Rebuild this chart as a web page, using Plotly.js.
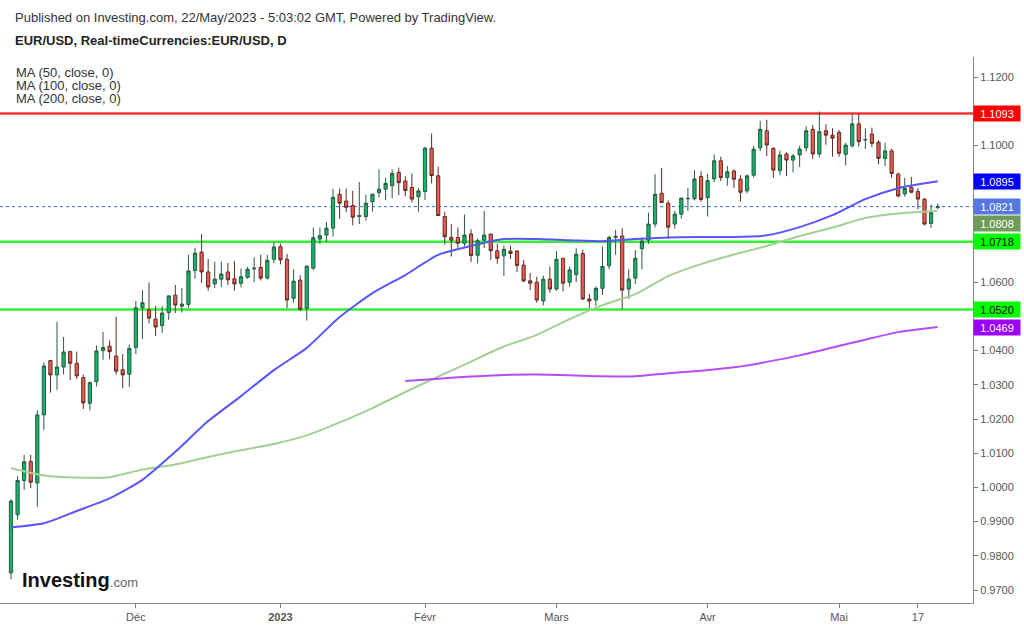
<!DOCTYPE html>
<html>
<head>
<meta charset="utf-8">
<script src="https://cdn.plot.ly/plotly-3.0.1.min.js"></script>
<style>
html,body{margin:0;padding:0;background:#fff;}
#chart{width:1024px;height:626px;}
</style>
</head>
<body>
<div id="chart"></div>
<script>
// ---------- DATA ----------
const dates = [
'2022-11-04',
'2022-11-07','2022-11-08','2022-11-09','2022-11-10','2022-11-11',
'2022-11-14','2022-11-15','2022-11-16','2022-11-17','2022-11-18',
'2022-11-21','2022-11-22','2022-11-23','2022-11-24','2022-11-25',
'2022-11-28','2022-11-29','2022-11-30','2022-12-01','2022-12-02',
'2022-12-05','2022-12-06','2022-12-07','2022-12-08','2022-12-09',
'2022-12-12','2022-12-13','2022-12-14','2022-12-15','2022-12-16',
'2022-12-19','2022-12-20','2022-12-21','2022-12-22','2022-12-23',
'2022-12-26','2022-12-27','2022-12-28','2022-12-29','2022-12-30',
'2023-01-02','2023-01-03','2023-01-04','2023-01-05','2023-01-06',
'2023-01-09','2023-01-10','2023-01-11','2023-01-12','2023-01-13',
'2023-01-16','2023-01-17','2023-01-18','2023-01-19','2023-01-20',
'2023-01-23','2023-01-24','2023-01-25','2023-01-26','2023-01-27',
'2023-01-30','2023-01-31','2023-02-01','2023-02-02','2023-02-03',
'2023-02-06','2023-02-07','2023-02-08','2023-02-09','2023-02-10',
'2023-02-13','2023-02-14','2023-02-15','2023-02-16','2023-02-17',
'2023-02-20','2023-02-21','2023-02-22','2023-02-23','2023-02-24',
'2023-02-27','2023-02-28','2023-03-01','2023-03-02','2023-03-03',
'2023-03-06','2023-03-07','2023-03-08','2023-03-09','2023-03-10',
'2023-03-13','2023-03-14','2023-03-15','2023-03-16','2023-03-17',
'2023-03-20','2023-03-21','2023-03-22','2023-03-23','2023-03-24',
'2023-03-27','2023-03-28','2023-03-29','2023-03-30','2023-03-31',
'2023-04-03','2023-04-04','2023-04-05','2023-04-06','2023-04-07',
'2023-04-10','2023-04-11','2023-04-12','2023-04-13','2023-04-14',
'2023-04-17','2023-04-18','2023-04-19','2023-04-20','2023-04-21',
'2023-04-24','2023-04-25','2023-04-26','2023-04-27','2023-04-28',
'2023-05-01','2023-05-02','2023-05-03','2023-05-04','2023-05-05',
'2023-05-08','2023-05-09','2023-05-10','2023-05-11','2023-05-12',
'2023-05-15','2023-05-16','2023-05-17','2023-05-18','2023-05-19',
'2023-05-22'
];

const openP = [
0.9750,
0.9920,1.0020,1.0076,1.0013,1.0212,
1.0371,1.0329,1.0352,1.0397,1.0363,
1.0321,1.0246,1.0309,1.0400,1.0413,
1.0384,1.0344,1.0331,1.0409,1.0525,
1.0519,1.0492,1.0473,1.0511,1.0562,
1.0530,1.0535,1.0634,1.0688,1.0630,
1.0595,1.0609,1.0630,1.0610,1.0597,
1.0614,1.0639,1.0643,1.0612,1.0667,
1.0704,1.0667,1.0553,1.0606,1.0524,
1.0641,1.0726,1.0738,1.0758,1.0857,
1.0837,1.0824,1.0792,1.0792,1.0835,
1.0862,1.0872,1.0882,1.0921,1.0896,
1.0877,1.0850,1.0865,1.0992,1.0911,
1.0792,1.0731,1.0731,1.0714,1.0741,
1.0679,1.0723,1.0741,1.0692,1.0677,
1.0691,1.0691,1.0650,1.0604,1.0600,
1.0545,1.0609,1.0580,1.0670,1.0600,
1.0622,1.0684,1.0551,1.0548,1.0582,
1.0648,1.0731,1.0735,1.0580,1.0612,
1.0698,1.0723,1.0770,1.0860,1.0831,
1.0770,1.0799,1.0844,1.0844,1.0909,
1.0847,1.0902,1.0955,1.0906,1.0925,
1.0901,1.0867,1.0913,1.0993,1.1043,
1.0991,1.0926,1.0975,1.0957,1.0972,
1.0993,1.1047,1.0975,1.1043,1.1030,
1.1038,1.0974,1.0999,1.1063,1.1016,
1.1033,1.1009,1.0962,1.0984,1.0916,
1.0858,1.0877,1.0865,1.0843,1.0772,
1.0818
];

const highP = [
0.9966,
1.0033,1.0095,1.0095,1.0226,1.0365,
1.0372,1.0484,1.0440,1.0400,1.0397,
1.0330,1.0310,1.0415,1.0454,1.0430,
1.0499,1.0390,1.0418,1.0545,1.0577,
1.0599,1.0530,1.0530,1.0562,1.0592,
1.0583,1.0680,1.0701,1.0741,1.0668,
1.0660,1.0660,1.0656,1.0662,1.0640,
1.0645,1.0673,1.0680,1.0680,1.0716,
1.0713,1.0683,1.0638,1.0620,1.0650,
1.0760,1.0760,1.0776,1.0873,1.0874,
1.0874,1.0867,1.0893,1.0855,1.0860,
1.0930,1.0905,1.0930,1.0935,1.0910,
1.0918,1.0875,1.0996,1.1035,1.0938,
1.0806,1.0770,1.0760,1.0798,1.0755,
1.0728,1.0809,1.0741,1.0712,1.0707,
1.0707,1.0694,1.0665,1.0627,1.0616,
1.0619,1.0646,1.0691,1.0670,1.0646,
1.0699,1.0695,1.0566,1.0588,1.0705,
1.0736,1.0753,1.0758,1.0638,1.0694,
1.0730,1.0803,1.0916,1.0934,1.0839,
1.0808,1.0846,1.0875,1.0928,1.0925,
1.0917,1.0973,1.0967,1.0940,1.0930,
1.0913,1.0915,1.0998,1.1072,1.1075,
1.0995,1.0985,1.0980,1.0975,1.0999,
1.1056,1.1060,1.1099,1.1062,1.1050,
1.1045,1.1007,1.1092,1.1092,1.1050,
1.1052,1.1015,1.1008,1.0990,1.0921,
1.0905,1.0908,1.0875,1.0846,1.0827,
1.0830
];

const lowP = [
0.9731,
0.9905,0.9993,0.9998,0.9943,1.0168,
1.0277,1.0285,1.0330,1.0314,1.0317,
1.0229,1.0225,1.0295,1.0373,1.0375,
1.0330,1.0290,1.0294,1.0390,1.0434,
1.0480,1.0443,1.0452,1.0490,1.0510,
1.0511,1.0525,1.0610,1.0598,1.0575,
1.0583,1.0586,1.0592,1.0575,1.0585,
1.0610,1.0600,1.0605,1.0608,1.0655,
1.0652,1.0524,1.0540,1.0515,1.0488,
1.0635,1.0712,1.0717,1.0734,1.0785,
1.0805,1.0766,1.0770,1.0780,1.0806,
1.0848,1.0840,1.0845,1.0855,1.0852,
1.0833,1.0806,1.0840,1.0889,1.0795,
1.0710,1.0675,1.0698,1.0705,1.0659,
1.0655,1.0700,1.0665,1.0654,1.0618,
1.0668,1.0630,1.0600,1.0577,1.0540,
1.0532,1.0569,1.0575,1.0573,1.0587,
1.0600,1.0548,1.0525,1.0530,1.0563,
1.0638,1.0680,1.0521,1.0551,1.0595,
1.0638,1.0712,1.0760,1.0833,1.0726,
1.0757,1.0786,1.0808,1.0839,1.0835,
1.0792,1.0893,1.0896,1.0882,1.0876,
1.0836,1.0860,1.0906,1.0983,1.0969,
1.0905,1.0913,1.0910,1.0921,1.0937,
1.0982,1.0960,1.0965,1.1002,1.0967,
1.0967,1.0942,1.0994,1.0997,1.0989,
1.0995,1.0945,1.0940,1.0905,1.0848,
1.0850,1.0860,1.0813,1.0766,1.0759,
1.0814
];

const closeP = [
0.9960,
1.0020,1.0075,1.0015,1.0212,1.0355,
1.0329,1.0352,1.0396,1.0363,1.0326,
1.0247,1.0306,1.0399,1.0409,1.0397,
1.0340,1.0329,1.0406,1.0525,1.0540,
1.0495,1.0469,1.0510,1.0560,1.0533,
1.0536,1.0633,1.0685,1.0630,1.0586,
1.0609,1.0624,1.0607,1.0595,1.0616,
1.0638,1.0641,1.0612,1.0664,1.0703,
1.0665,1.0548,1.0603,1.0521,1.0647,
1.0730,1.0736,1.0758,1.0848,1.0831,
1.0819,1.0790,1.0795,1.0831,1.0857,
1.0872,1.0889,1.0918,1.0891,1.0868,
1.0843,1.0867,1.0992,1.0912,1.0795,
1.0733,1.0723,1.0714,1.0738,1.0678,
1.0721,1.0738,1.0692,1.0670,1.0696,
1.0684,1.0649,1.0604,1.0597,1.0548,
1.0609,1.0580,1.0667,1.0597,1.0636,
1.0682,1.0551,1.0545,1.0582,1.0646,
1.0731,1.0734,1.0577,1.0609,1.0670,
1.0720,1.0770,1.0857,1.0833,1.0761,
1.0799,1.0846,1.0845,1.0902,1.0842,
1.0897,1.0955,1.0906,1.0923,1.0901,
1.0863,1.0911,1.0989,1.1047,1.1001,
1.0928,1.0972,1.0957,1.0969,1.0989,
1.1043,1.0975,1.1040,1.1030,1.1021,
1.0977,1.1001,1.1063,1.1011,1.1017,
1.1006,1.0962,1.0984,1.0918,1.0852,
1.0874,1.0863,1.0843,1.0770,1.0804,
1.0821
];

// moving averages read at weekly points
const maDates = ['2022-11-04','2022-11-11','2022-11-18','2022-11-25','2022-12-02','2022-12-09','2022-12-16','2022-12-23','2022-12-30','2023-01-06','2023-01-13','2023-01-20','2023-01-27','2023-02-03','2023-02-10','2023-02-17','2023-02-24','2023-03-03','2023-03-10','2023-03-17','2023-03-24','2023-03-31','2023-04-07','2023-04-14','2023-04-21','2023-04-28','2023-05-05','2023-05-12','2023-05-22'];
const ma50  = [0.9883,0.9895,0.9931,0.9968,1.0022,1.0104,1.0194,1.0267,1.0343,1.0408,1.0498,1.0568,1.0621,1.0680,1.0706,1.0726,1.0726,1.0723,1.0720,1.0726,1.0731,1.0732,1.0732,1.0737,1.0761,1.0796,1.0843,1.0875,1.0895];
const ma100 = [1.0056,1.0035,1.0029,1.0030,1.0052,1.0067,1.0089,1.0109,1.0127,1.0152,1.0190,1.0232,1.0279,1.0324,1.0368,1.0412,1.0446,1.0492,1.0533,1.0565,1.0618,1.0653,1.0681,1.0706,1.0735,1.0760,1.0788,1.0801,1.0808];
const ma200 = [null,null,null,null,null,null,null,null,null,null,null,null,1.0311,1.0318,1.0324,1.0329,1.0330,1.0328,1.0325,1.0325,1.0334,1.0341,1.0351,1.0367,1.0386,1.0409,1.0432,1.0454,1.0469];

const redLevel = 1.1093;
const greenLevels = [1.0718, 1.0520];
const lastPrice = 1.0821;

const yTickVals = [0.97,0.98,0.99,1.00,1.01,1.02,1.03,1.04,1.05,1.06,1.07,1.08,1.09,1.10,1.11,1.12];
const yTickHidden = [1.05,1.07,1.08,1.09,1.11]; // covered by the price tags in the reference

const tickDates  = ['2022-12-01','2023-01-02','2023-02-01','2023-03-01','2023-04-03','2023-05-01','2023-05-17'];
const tickLabels = ['Déc','<b>2023</b>','Févr','Mars','Avr','Mai','17'];

const legendLabels = ['MA (50, close, 0)','MA (100, close, 0)','MA (200, close, 0)'];

// ---------- CHART ----------
const FONT = 'Liberation Sans, Arial, sans-serif';

const traces = [
  {
    type:'candlestick', x:dates, open:openP, high:highP, low:lowP, close:closeP,
    increasing:{line:{color:'#2a5a40', width:1}, fillcolor:'#14b46b'},
    decreasing:{line:{color:'#5a2d28', width:1}, fillcolor:'#f2594b'},
    whiskerwidth:0, hoverinfo:'skip', showlegend:false
  },
  {type:'scatter', mode:'lines', x:maDates, y:ma100, line:{color:'#a3cf93', width:2, shape:'spline', smoothing:0.6}, hoverinfo:'skip'},
  {type:'scatter', mode:'lines', x:maDates, y:ma200, line:{color:'#b44cff', width:2, shape:'spline', smoothing:0.6}, hoverinfo:'skip', connectgaps:false},
  {type:'scatter', mode:'lines', x:maDates, y:ma50, line:{color:'#5656ff', width:2, shape:'spline', smoothing:0.6}, hoverinfo:'skip'}
];

const shapes = [
  {type:'line', xref:'paper', x0:0, x1:1, yref:'y', y0:redLevel, y1:redLevel, line:{color:'#f43434', width:2.5}, layer:'below'},
  {type:'line', xref:'paper', x0:0, x1:1, yref:'y', y0:lastPrice, y1:lastPrice, line:{color:'#3f63e8', width:1, dash:'dot'}, layer:'below'}
];
greenLevels.forEach(v => shapes.push({type:'line', xref:'paper', x0:0, x1:1, yref:'y', y0:v, y1:v, line:{color:'#33f033', width:2.5}, layer:'below'}));

function tag(v, bg, fg, yshift){
  return {xref:'paper', x:1, xanchor:'left', yref:'y', y:v, yanchor:'middle', yshift:yshift||0,
    text:v.toFixed(4), showarrow:false, bgcolor:bg, borderpad:1, width:44, height:13,
    font:{family:FONT, size:11, color:fg}, align:'center'};
}

const annotations = [
  tag(redLevel, '#ff0000', '#ffffff'),
  tag(ma50[ma50.length-1], '#0000ff', '#ffffff'),
  tag(lastPrice, '#5577e0', '#ffffff'),
  tag(ma100[ma100.length-1], '#6e9c58', '#ffffff', -12),
  tag(greenLevels[0], '#00ff00', '#000000'),
  tag(greenLevels[1], '#00ff00', '#000000'),
  tag(ma200[ma200.length-1], '#9b00ff', '#ffffff'),
  {xref:'paper', x:13/973, xanchor:'left', yref:'paper', y:(603-17)/546, yanchor:'middle', showarrow:false,
    text:'Published on Investing.com, 22/May/2023 - 5:03:02 GMT, Powered by TradingView.', font:{family:FONT, size:13, color:'#333'}},
  {xref:'paper', x:13/973, xanchor:'left', yref:'paper', y:(603-40)/546, yanchor:'middle', showarrow:false,
    text:'<b>EUR/USD, Real-timeCurrencies:EUR/USD, D</b>', font:{family:FONT, size:13, color:'#222'}},
  {xref:'paper', x:20/973, xanchor:'left', yref:'paper', y:(603-580)/546, yanchor:'middle', showarrow:false,
    text:'<b>Investing</b><span style="font-size:13px;color:#666">.com</span>', font:{family:FONT, size:20, color:'#111'}}
];
legendLabels.forEach((t,i) => annotations.push({xref:'paper', x:14/973, xanchor:'left', yref:'paper', y:(603-(72+13.5*i))/546, yanchor:'middle', showarrow:false,
  text:t, font:{family:FONT, size:13, color:'#333'}}));

const layout = {
  width:1024, height:626,
  margin:{l:0, r:51, t:57, b:23, pad:0},
  paper_bgcolor:'#ffffff', plot_bgcolor:'#ffffff',
  showlegend:false,
  dragmode:false,
  xaxis:{
    type:'category', categoryorder:'array', categoryarray:dates,
    range:[-1.674, 146.38], rangeslider:{visible:false},
    tickmode:'array', tickvals:tickDates, ticktext:tickLabels,
    ticks:'outside', ticklen:4, tickcolor:'#777', tickwidth:1,
    showline:true, linecolor:'#888', linewidth:1, mirror:false,
    showgrid:false, zeroline:false,
    tickfont:{family:FONT, size:11, color:'#555'}, fixedrange:true
  },
  yaxis:{
    side:'right', range:[0.96620, 1.12585],
    tickmode:'array', tickvals:yTickVals,
    ticktext:yTickVals.map(v => yTickHidden.some(h => Math.abs(h-v) < 1e-9) ? '' : v.toFixed(4)),
    ticks:'outside', ticklen:4, tickcolor:'#777', tickwidth:1,
    showline:true, linecolor:'#888', linewidth:1,
    showgrid:false, zeroline:false,
    tickfont:{family:FONT, size:11, color:'#555'}, fixedrange:true
  },
  shapes:shapes,
  annotations:annotations
};

Plotly.newPlot('chart', traces, layout, {displayModeBar:false, staticPlot:true});
</script>
</body>
</html>
